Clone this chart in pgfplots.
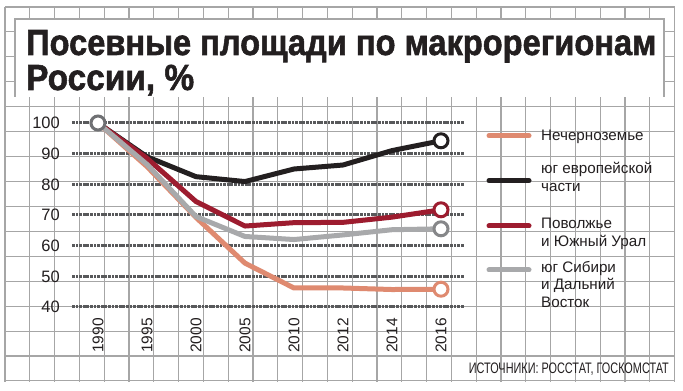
\documentclass[border=0pt]{standalone}
\usepackage{fontspec}
\setmainfont{Liberation Sans}
\newfontfamily\titlefont[FakeBold=1.6]{Liberation Sans Bold}
\usepackage{graphicx}
\usepackage{pgfplots}
\pgfplotsset{compat=1.18}
\definecolor{gridc}{HTML}{A6A6A6}
\definecolor{dotc}{HTML}{58595B}
\definecolor{textc}{HTML}{231F20}
\definecolor{salmonc}{HTML}{DF8A70}
\definecolor{blackc}{HTML}{231F20}
\definecolor{redc}{HTML}{9D1C2F}
\definecolor{grayc}{HTML}{A8A9AB}
\definecolor{mark0}{HTML}{6F7073}
\begin{document}
\begin{tikzpicture}[x=1pt,y=1pt]
\useasboundingbox (0,0) rectangle (683,391);
\fill[white] (0,0) rectangle (683,391);
% graph-paper background
\foreach \i in {0,...,27}{\draw[gridc, line width=1.1pt] ({5+24.8*\i},{391-7}) -- ({5+24.8*\i},{391-382});}
\foreach \j in {0,...,15}{\draw[gridc, line width=1.1pt] (5,{391-7-24.93*\j}) -- (674.6,{391-7-24.93*\j});}
% title box
\fill[white] (15,{391-97}) rectangle (664,{391-19});
\draw[gridc, line width=1.1pt] (15,{391-97}) -- (15,{391-19}) -- (664,{391-19}) -- (664,{391-97});
\node[anchor=base west, inner sep=0pt, text=textc] at (26,{391-55})
  {\resizebox{630pt}{\height}{\fontsize{36.3}{40}\selectfont\titlefont Посевные площади по макрорегионам}};
\node[anchor=base west, inner sep=0pt, text=textc] at (26,{391-90})
  {\resizebox{168pt}{\height}{\fontsize{36.3}{40}\selectfont\titlefont России, \%}};
% dotted horizontal grid lines of the plot (values 40..100), drawn as small blocks
\foreach \v in {40,50,...,100}{
  \pgfmathsetmacro\yy{84+(\v-40)*184/60-1.5}
  \foreach \k in {0,...,108}{\fill[dotc] ({72+\k*3.6},\yy) rectangle ++(2.7,3.0);}
}
\begin{axis}[
  at={(72pt,84pt)}, anchor=south west,
  scale only axis, width=393pt, height=184pt,
  xmin=-0.53, xmax=7.49, ymin=40, ymax=100,
  clip=false,
  axis line style={draw=none},
  major tick length=0pt,
  xtick={0,...,7},
  xticklabels={1990,1995,2000,2005,2010,2012,2014,2016},
  ytick={40,50,...,100},
  /pgf/number format/assume math mode=true,
  yticklabel style={anchor=east, inner sep=0pt, font=\fontsize{16.5}{16.5}\selectfont, text=textc},
  yticklabel shift=12pt,
  xticklabel style={rotate=90, anchor=east, inner sep=0pt, font=\fontsize{15.5}{15.5}\selectfont, text=textc},
  xticklabel shift=11pt,
]
\addplot[salmonc, line width=5pt, line join=round, mark=none]
  coordinates {(0,100) (1,85.8) (2,69.2) (3,54.3) (4,46.2) (5,46.2) (6,45.7) (7,45.8)};
\addplot[blackc, line width=5pt, line join=round, mark=none]
  coordinates {(0,100) (1,89) (2,82.5) (3,80.9) (4,85) (5,86.3) (6,91) (7,94.2)};
\addplot[redc, line width=5pt, line join=round, mark=none]
  coordinates {(0,100) (1,88.5) (2,74.4) (3,66.4) (4,67.5) (5,67.6) (6,69.3) (7,71.7)};
\addplot[grayc, line width=5pt, line join=round, mark=none]
  coordinates {(0,100) (1,86.5) (2,69.5) (3,63) (4,62) (5,63.5) (6,65.2) (7,65.5)};
\addplot[only marks, mark=*, mark size=7pt, mark options={draw=salmonc, fill=white, line width=3pt}] coordinates {(7,45.8)};
\addplot[only marks, mark=*, mark size=7pt, mark options={draw=blackc, fill=white, line width=3pt}] coordinates {(7,94.2)};
\addplot[only marks, mark=*, mark size=7pt, mark options={draw=redc, fill=white, line width=3pt}] coordinates {(7,71.7)};
\addplot[only marks, mark=*, mark size=7pt, mark options={draw=grayc!80!black, fill=white, line width=3pt}] coordinates {(7,65.5)};
\addplot[only marks, mark=*, mark size=7pt, mark options={draw=mark0, fill=white, line width=3pt}] coordinates {(0,100)};
\end{axis}
% legend
\begin{scope}[line width=5pt, line cap=round]
\draw[salmonc] (489,{391-135.7}) -- (529,{391-135.7});
\draw[blackc] (489,{391-180.7}) -- (529,{391-180.7});
\draw[redc] (489,{391-226}) -- (529,{391-226});
\draw[grayc] (489,{391-270}) -- (529,{391-270});
\end{scope}
\begin{scope}[every node/.style={anchor=base west, inner sep=0pt, text=textc, font=\fontsize{15.2}{15.2}\selectfont}]
\node at (541,{391-140.7}) {Нечерноземье};
\node at (541,{391-174}) {юг европейской};
\node at (541,{391-192}) {части};
\node at (541,{391-229}) {Поволжье};
\node at (541,{391-246.7}) {и Южный Урал};
\node at (541,{391-273}) {юг Сибири};
\node at (541,{391-290}) {и Дальний};
\node at (541,{391-308}) {Восток};
\end{scope}
\node[anchor=base east, inner sep=0pt, text=textc] at (669,{391-374})
  {\resizebox{200pt}{\height}{\fontsize{15.2}{15.2}\selectfont ИСТОЧНИКИ: РОССТАТ, ГОСКОМСТАТ}};
\end{tikzpicture}
\end{document}
